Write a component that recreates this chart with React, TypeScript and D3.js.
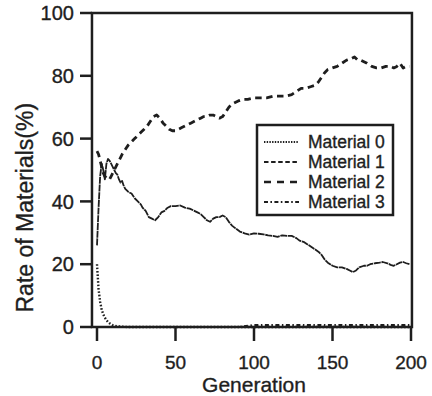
import React, { useEffect, useRef } from 'react';
import * as d3 from 'd3';

// readings taken off the scanned figure: [generation, rate %]
const material0: [number, number][] = [
  [0, 20], [1, 12], [2, 8], [3, 5.5], [4, 4], [5, 3], [6, 2.2], [7, 1.6], [8, 1.2],
  [9, 0.9], [10, 0.6], [12, 0.3], [14, 0.2], [16, 0.1], [20, 0], [200, 0],
];

const material1: [number, number][] = [
  [0, 26], [1, 38], [2, 48], [3, 52], [4, 50], [5, 47], [6, 52], [7, 53.5], [8, 53], [9, 52],
  [10, 51], [11, 50], [12, 49], [13, 48.5], [14, 47], [15, 46], [16, 46.5], [17, 45], [18, 44],
  [19, 43.5], [20, 43], [22, 42.5], [24, 41], [26, 40], [28, 39], [29, 38], [31, 37], [33, 35],
  [35, 34.5], [37, 34], [39, 35], [41, 36.5], [43, 37], [45, 38], [47, 38.5], [50, 38.5],
  [53, 38.7], [56, 38], [59, 37.7], [62, 37], [64, 36.5], [66, 36], [68, 35], [70, 34],
  [72, 33.5], [74, 34.5], [76, 35], [78, 35], [80, 35.5], [82, 35], [84, 33.5], [86, 32.3],
  [88, 31.5], [91, 30.4], [94, 29.8], [97, 29.4], [100, 29.8], [103, 29.7], [106, 29.5],
  [109, 29.2], [112, 29], [115, 28.7], [118, 29.2], [121, 29], [124, 29], [127, 28.3],
  [129, 27.5], [132, 27], [135, 26], [138, 25], [141, 24], [143, 23], [145, 21.5], [147, 20.5],
  [150, 19.5], [153, 19], [156, 19], [159, 18.5], [161, 18], [163, 17.5], [165, 18], [167, 19],
  [170, 19.5], [172, 19.5], [174, 20], [177, 20.3], [180, 20.5], [182, 20.7], [185, 20.3],
  [187, 19.8], [189, 19.5], [191, 20], [193, 20.5], [195, 20.7], [197, 20.3], [199, 20],
];

const material2: [number, number][] = [
  [0, 56], [1, 55], [2, 53], [3, 51], [4, 49], [5, 48], [6, 47.5], [7, 47], [8, 47], [9, 48],
  [10, 49], [11, 50], [12, 51], [13, 52], [14, 53], [16, 55], [18, 56.5], [20, 58], [22, 59],
  [24, 60], [26, 61], [28, 62], [30, 63], [32, 64], [34, 65.5], [36, 67], [38, 67.5], [40, 66.5],
  [42, 65], [44, 64], [46, 63], [48, 62.5], [50, 62.5], [52, 63], [54, 63.5], [56, 64],
  [58, 64.5], [60, 65], [62, 65.5], [64, 66], [66, 66.5], [68, 67], [70, 67], [72, 67.5],
  [74, 67.5], [76, 67], [78, 66.5], [80, 67], [82, 68.5], [84, 70], [86, 71], [88, 71.5],
  [90, 72], [93, 72.5], [96, 72.5], [100, 73], [104, 73], [108, 73], [112, 73.5], [116, 73.5],
  [120, 73.5], [124, 74], [127, 75], [130, 76], [133, 76], [136, 76.5], [139, 77], [141, 78],
  [143, 79.5], [145, 81], [147, 82], [150, 82.5], [153, 83], [156, 84], [159, 85], [162, 85.5],
  [164, 86], [166, 85], [168, 85], [170, 84.5], [172, 84], [175, 83], [178, 82.5], [181, 82.5],
  [184, 83], [187, 83], [189, 82.5], [191, 83], [193, 84], [195, 82.5], [197, 83], [199, 83],
];

const material3: [number, number][] = [
  [0, 0], [90, 0], [100, 0.6], [200, 0.6],
];

const seriesNames = ['Material 0', 'Material 1', 'Material 2', 'Material 3'];
const xTicks = [0, 50, 100, 150, 200];
const yTicks = [0, 20, 40, 60, 80, 100];

const FONT = '"Liberation Sans", Arial, sans-serif';
const INK = '#1e1e1e';

export default function App() {
  const svgRef = useRef<SVGSVGElement>(null);

  useEffect(() => {
    if (!svgRef.current) return;
    const svg = d3.select(svgRef.current);
    svg.selectAll('*').remove();

    const x = d3.scaleLinear().domain([0, 200]).range([97, 411]);
    const y = d3.scaleLinear().domain([0, 100]).range([327, 13]);

    const left = x(-3.2);
    const right = x(200.6);

    // chart styles: dotted, fine dash (near solid on the plot), long dash, dash-dot
    const styles = [
      { data: material0, width: 2.4, dash: '1.6,1.8', legendDash: '1.4,1.3', legendWidth: 2 },
      { data: material1, width: 1.8, dash: '7,0.7', legendDash: '4.5,2.6', legendWidth: 2 },
      { data: material2, width: 2.8, dash: '6.5,4.5', legendDash: '7,6', legendWidth: 2.6 },
      { data: material3, width: 2, dash: '4,2.5,1.5,2.5', legendDash: '4,2.4,1.6,2.4', legendWidth: 2 },
    ];

    const line = d3.line<[number, number]>()
      .x(d => x(d[0]))
      .y(d => y(d[1]));

    const plot = svg.append('g');
    styles.forEach(s => {
      plot.append('path')
        .datum(s.data)
        .attr('d', line)
        .attr('fill', 'none')
        .attr('stroke', INK)
        .attr('stroke-width', s.width)
        .attr('stroke-dasharray', s.dash)
        .attr('stroke-linejoin', 'round');
    });

    // frame
    svg.append('rect')
      .attr('x', left)
      .attr('y', y(100))
      .attr('width', right - left)
      .attr('height', y(0) - y(100))
      .attr('fill', 'none')
      .attr('stroke', INK)
      .attr('stroke-width', 2.5);

    const textStyle = (sel: d3.Selection<SVGTextElement, unknown, null, undefined>, size: number) =>
      sel.attr('font-family', FONT)
        .attr('font-size', size)
        .attr('fill', INK)
        .attr('stroke', INK)
        .attr('stroke-width', 0.35);

    // y axis ticks + labels
    const yAxis = svg.append('g');
    yTicks.forEach(t => {
      yAxis.append('line')
        .attr('x1', left - 12).attr('x2', left)
        .attr('y1', y(t)).attr('y2', y(t))
        .attr('stroke', INK).attr('stroke-width', 2.5);
      yAxis.append('text')
        .attr('x', left - 18)
        .attr('y', y(t))
        .attr('dy', '0.36em')
        .attr('text-anchor', 'end')
        .call(textStyle as any, 20)
        .text(t);
    });

    // x axis ticks + labels
    const xAxis = svg.append('g');
    xTicks.forEach(t => {
      xAxis.append('line')
        .attr('x1', x(t)).attr('x2', x(t))
        .attr('y1', y(0)).attr('y2', y(0) + 14)
        .attr('stroke', INK).attr('stroke-width', 2.5);
      xAxis.append('text')
        .attr('x', x(t))
        .attr('y', y(0) + 42)
        .attr('text-anchor', 'middle')
        .call(textStyle as any, 19)
        .text(t);
    });

    svg.append('text')
      .attr('x', x(100))
      .attr('y', 392)
      .attr('text-anchor', 'middle')
      .call(textStyle as any, 21)
      .text('Generation');

    svg.append('text')
      .attr('transform', `translate(33,${y(38)}) rotate(-90)`)
      .attr('text-anchor', 'middle')
      .call(textStyle as any, 23)
      .text('Rate of Materials(%)');

    // legend
    const legend = svg.append('g').attr('transform', 'translate(257,125)');
    legend.append('rect')
      .attr('width', 136)
      .attr('height', 90)
      .attr('fill', '#fff')
      .attr('stroke', INK)
      .attr('stroke-width', 2.5);
    seriesNames.forEach((name, i) => {
      const cy = 17 + i * 20;
      legend.append('line')
        .attr('x1', 7).attr('x2', 42)
        .attr('y1', cy).attr('y2', cy)
        .attr('stroke', INK)
        .attr('stroke-width', styles[i].legendWidth)
        .attr('stroke-dasharray', styles[i].legendDash);
      legend.append('text')
        .attr('x', 51)
        .attr('y', cy)
        .attr('dy', '0.36em')
        .call(textStyle as any, 17.5)
        .text(name);
    });
  }, []);

  return (
    <svg
      ref={svgRef}
      width={432}
      height={396}
      style={{ position: 'absolute', left: 0, top: 0, background: '#fff' }}
    />
  );
}
